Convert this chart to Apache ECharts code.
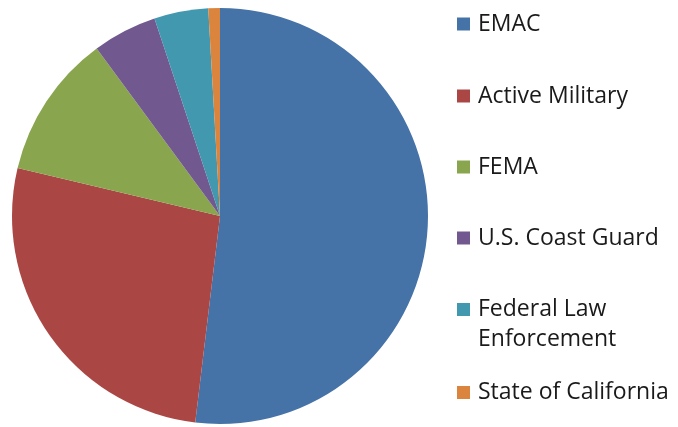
<!DOCTYPE html>
<html>
<head>
<meta charset="utf-8">
<script src="https://cdn.jsdelivr.net/npm/echarts@6/dist/echarts.min.js"></script>
<style>
html,body{margin:0;padding:0;background:#fff;}
#chart{width:678px;height:427px;}
</style>
</head>
<body>
<div id="chart"></div>
<script>
var categories = ['EMAC', 'Active Military', 'FEMA', 'U.S. Coast Guard', 'Federal Law Enforcement', 'State of California'];
var legendLabels = ['EMAC', 'Active Military', 'FEMA', 'U.S. Coast Guard', ' \nFederal Law\nEnforcement', 'State of California'];
var shares = [51.9, 26.8, 11.2, 5.0, 4.2, 0.9];
var colors = ['#4572A7', '#AA4643', '#89A54E', '#71588F', '#4198AF', '#DB843D'];

var legendTops = [9, 81, 152, 223, 264.5, 377.5];
var fontSize = 23;
var lh = 30;

var chart = echarts.init(document.getElementById('chart'), null, {renderer: 'canvas'});
var legends = categories.map(function (name, i) {
  return {
    data: [name],
    orient: 'vertical',
    left: 457,
    top: legendTops[i],
    padding: 0,
    itemWidth: 13,
    itemHeight: 13,
    itemGap: 0,
    icon: 'rect',
    selectedMode: false,
    formatter: function () { return legendLabels[i]; },
    textStyle: {
      fontFamily: 'Open Sans',
      fontSize: fontSize,
      color: '#1a1a1a',
      lineHeight: lh,
      padding: [0, 0, 0, 3]
    }
  };
});

chart.setOption({
  animation: false,
  color: colors,
  legend: legends,
  series: [{
    type: 'pie',
    center: [220, 216],
    radius: 208,
    startAngle: 90,
    clockwise: true,
    label: {show: false},
    labelLine: {show: false},
    emphasis: {disabled: true},
    itemStyle: {borderWidth: 0},
    data: categories.map(function (n, i) { return {name: n, value: shares[i]}; })
  }]
});
</script>
</body>
</html>
